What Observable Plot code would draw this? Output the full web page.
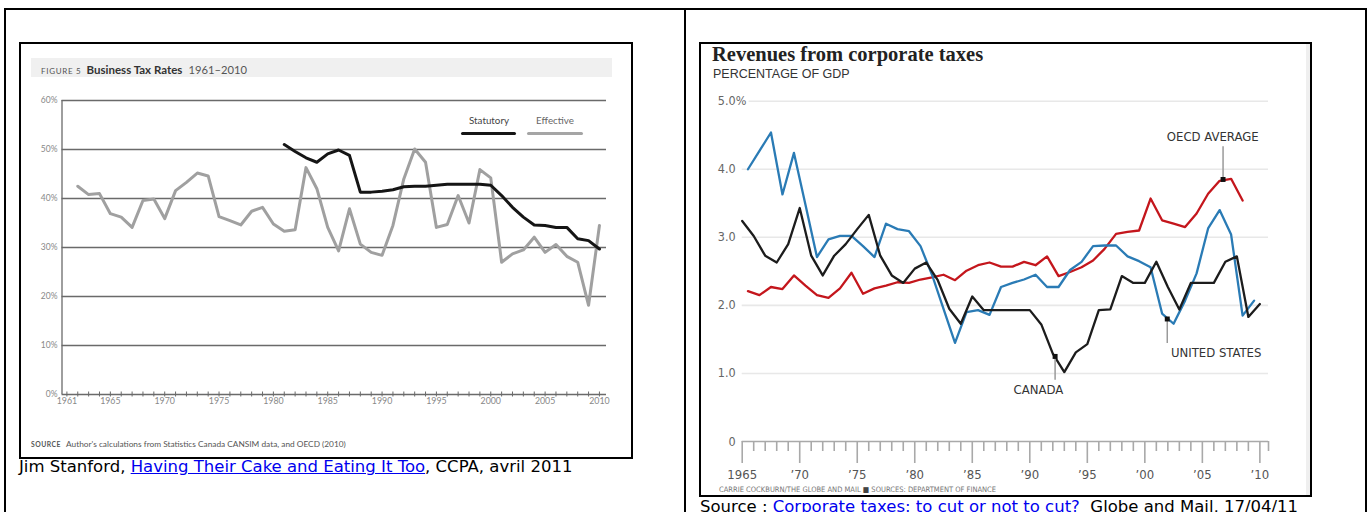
<!DOCTYPE html>
<html>
<head>
<meta charset="utf-8">
<script src="https://cdn.jsdelivr.net/npm/d3@7"></script>
<script src="https://cdn.jsdelivr.net/npm/@observablehq/plot@0.6"></script>
<style>
  html, body { margin: 0; padding: 0; background: #fff; }
  body { width: 1367px; height: 512px; overflow: hidden; position: relative; font-family: "DejaVu Sans", Verdana, sans-serif; }
  .abs { position: absolute; }
  .box { position: absolute; border: 2px solid #000; box-sizing: border-box; }
  .cond { font-family: "Liberation Sans Narrow", "DejaVu Sans Condensed", "Roboto Condensed", Roboto, sans-serif; }
  .lato { font-family: Lato, "Open Sans", sans-serif; }
  a { color: #0000ee; text-decoration: underline; }
  .cap { font-size: 16.5px; line-height: 18px; white-space: nowrap; color: #000; }
</style>
</head>
<body>
<!-- page table frame -->
<div class="box" style="left:4px;top:8px;width:1363px;height:520px;"></div>
<div class="abs" style="left:684px;top:8px;width:2px;height:510px;background:#000;"></div>

<!-- left figure -->
<div class="box" style="left:19px;top:42px;width:614px;height:417px;"></div>
<div class="abs lato" style="left:31px;top:58px;width:581px;height:19px;background:#f0f0f0;"></div>
<div class="abs lato" style="left:41px;top:60px;height:16px;line-height:16px;white-space:nowrap;">
  <span style="font-size:8px;letter-spacing:0.7px;color:#555;">FIGURE 5</span>
  <span style="font-size:11.5px;font-weight:bold;color:#333;margin-left:1px;">Business Tax Rates</span>
  <span style="font-size:11.2px;color:#555;margin-left:2px;">1961–2010</span>
</div>
<div class="abs lato" style="left:461px;top:114px;width:56px;text-align:center;font-size:9.8px;color:#444;">Statutory</div>
<div class="abs" style="left:461px;top:131.5px;width:55px;height:3.5px;background:#151515;border-radius:2px;"></div>
<div class="abs lato" style="left:527px;top:114px;width:56px;text-align:center;font-size:9.8px;color:#666;">Effective</div>
<div class="abs" style="left:527px;top:131.5px;width:56px;height:3.5px;background:#a5a5a5;border-radius:2px;"></div>
<div class="abs lato" style="left:31px;top:435px;height:12px;line-height:12px;white-space:nowrap;color:#555;">
  <span style="font-size:6.8px;font-weight:bold;letter-spacing:0.5px;">SOURCE</span>
  <span style="font-size:8.3px;margin-left:1px;">Author's calculations from Statistics Canada CANSIM data, and OECD (2010)</span>
</div>
<div id="left" class="abs" style="left:21px;top:44px;"></div>
<div class="abs cap" style="left:19px;top:458px;">Jim Stanford, <a href="#">Having Their Cake and Eating It Too</a>, CCPA, avril 2011</div>

<!-- right figure -->
<div class="box" style="left:699px;top:42px;width:613px;height:455px;"></div>
<div class="abs" style="left:1306px;top:44px;width:4px;height:451px;background:#efefef;"></div>
<div class="abs" style="left:712px;top:42px;font-family:'Liberation Serif','DejaVu Serif',serif;font-weight:bold;font-size:20.5px;line-height:24px;color:#222;white-space:nowrap;">Revenues from corporate taxes</div>
<div class="abs" style="left:713px;top:67px;font-family:'Liberation Sans',Arial,sans-serif;font-size:12.5px;line-height:15px;color:#333;white-space:nowrap;">PERCENTAGE OF GDP</div>
<div id="right" class="abs" style="left:701px;top:44px;"></div>
<div class="abs cond" style="left:719px;top:486px;font-size:7.5px;line-height:8px;color:#777;white-space:nowrap;">CARRIE COCKBURN/THE GLOBE AND MAIL <span style="color:#444">&#9632;</span> SOURCES: DEPARTMENT OF FINANCE</div>
<div class="abs cap" style="left:700px;top:498px;">Source : <a href="#">Corporate taxes: to cut or not to cut?</a>&nbsp; Globe and Mail, 17/04/11</div>

<script>
// ---------- LEFT CHART DATA: Business Tax Rates 1961-2010 ----------
const effectiveYears = [1962,1963,1964,1965,1966,1967,1968,1969,1970,1971,1972,1973,1974,1975,1976,1977,1978,1979,1980,1981,1982,1983,1984,1985,1986,1987,1988,1989,1990,1991,1992,1993,1994,1995,1996,1997,1998,1999,2000,2001,2002,2003,2004,2005,2006,2007,2008,2009,2010];
const effectiveValues = [42.5,40.8,41.0,36.9,36.2,34.1,39.6,39.9,35.9,41.6,43.3,45.2,44.6,36.3,35.5,34.6,37.4,38.2,34.8,33.3,33.6,46.3,42.0,34.1,29.3,37.9,30.7,29.0,28.4,34.5,44.0,50.1,47.4,34.1,34.7,40.6,35.0,45.9,44.2,27.0,28.7,29.5,32.1,29.0,30.6,28.2,27.0,18.2,34.5];
const statutoryYears = [1981,1982,1983,1984,1985,1986,1987,1988,1989,1990,1991,1992,1993,1994,1995,1996,1997,1998,1999,2000,2001,2002,2003,2004,2005,2006,2007,2008,2009,2010];
const statutoryValues = [51.0,49.6,48.3,47.4,49.1,49.9,48.8,41.3,41.3,41.5,41.8,42.4,42.5,42.5,42.7,42.9,42.9,42.9,42.9,42.7,40.6,38.2,36.2,34.6,34.5,34.1,34.1,31.8,31.4,29.7];
const leftYTicks = [0,10,20,30,40,50,60];
const leftXLabels = [1961,1965,1970,1975,1980,1985,1990,1995,2000,2005,2010];
const leftTickYears = d3.range(1961, 2011);

// ---------- RIGHT CHART DATA: Revenues from corporate taxes, % of GDP ----------
const canadaYears = d3.range(1965, 2011);
const canadaValues = [3.24,3.02,2.73,2.63,2.90,3.43,2.73,2.44,2.73,2.90,3.12,3.33,2.73,2.44,2.33,2.54,2.63,2.37,1.95,1.73,2.13,1.93,1.93,1.93,1.93,1.93,1.72,1.29,1.02,1.31,1.43,1.93,1.94,2.43,2.33,2.33,2.64,2.27,1.94,2.33,2.33,2.33,2.64,2.72,1.83,2.02];
const usYears = d3.range(1965, 2010);
const usValues = [4.00,4.27,4.54,3.63,4.24,3.48,2.71,2.97,3.02,3.02,2.87,2.71,3.20,3.12,3.09,2.87,2.45,1.95,1.45,1.90,1.93,1.86,2.27,2.33,2.38,2.45,2.27,2.27,2.52,2.64,2.87,2.88,2.88,2.72,2.65,2.56,1.88,1.73,2.07,2.47,3.13,3.40,3.04,1.85,2.07];
const oecdYears = d3.range(1965, 2009);
const oecdValues = [2.21,2.15,2.27,2.24,2.44,2.29,2.15,2.11,2.25,2.48,2.17,2.25,2.29,2.34,2.33,2.38,2.41,2.45,2.37,2.51,2.59,2.63,2.57,2.57,2.64,2.59,2.72,2.43,2.49,2.56,2.66,2.83,3.05,3.08,3.10,3.57,3.25,3.20,3.15,3.35,3.64,3.83,3.86,3.54];
const rightYTicks = [0,1,2,3,4,5];
const rightYLabels = ["0","1.0","2.0","3.0","4.0","5.0"];
const rightMajorYears = [1965,1970,1975,1980,1985,1990,1995,2000,2005,2010];
const rightXLabels = ["1965","\u201970","\u201975","\u201980","\u201985","\u201990","\u201995","\u201900","\u201905","\u201910"];
const rightMinorYears = d3.range(1966, 2010).filter(y => y % 5 !== 0).concat([2010.75]);
const annotLabels = ["OECD AVERAGE","UNITED STATES","CANADA"];
const annotYears = [2006.8, 2001.95, 1992.2];
const annotValues = [3.85, 1.80, 1.25];
const annotLeaderEnds = [4.33, 1.44, 0.90];
const annotLabelYears = [2005.9, 2006.2, 1990.75];
const annotLabelValues = [4.48, 1.30, 0.765];

// ---------- build tables ----------
const effective = effectiveYears.map((year, i) => ({year, value: effectiveValues[i]}));
const statutory = statutoryYears.map((year, i) => ({year, value: statutoryValues[i]}));
const canada = canadaYears.map((year, i) => ({year, value: canadaValues[i]}));
const us = usYears.map((year, i) => ({year, value: usValues[i]}));
const oecd = oecdYears.map((year, i) => ({year, value: oecdValues[i]}));
const annotations = annotLabels.map((label, i) => ({label, year: annotYears[i], value: annotValues[i], end: annotLeaderEnds[i], ly: annotLabelYears[i], lv: annotLabelValues[i]}));
const rightYLabelMap = new Map(rightYTicks.map((t, i) => [t, rightYLabels[i]]));
const rightXLabelMap = new Map(rightMajorYears.map((t, i) => [t, rightXLabels[i]]));
const midYear = d => d.year + 0.5;   // US and OECD series are drawn at mid-year

const condFont = '"Liberation Sans Narrow", "DejaVu Sans Condensed", "Roboto Condensed", Roboto, sans-serif';

// ---------- LEFT CHART ----------
const leftChart = Plot.plot({
  width: 610, height: 413,
  marginLeft: 40.5, marginRight: 25, marginTop: 56, marginBottom: 63,
  style: {background: "transparent", fontFamily: "Lato, 'Open Sans', sans-serif", overflow: "visible"},
  x: {domain: [1960.55, 2010.65], label: null},
  y: {domain: [0, 60], label: null},
  marks: [
    Plot.ruleY(leftYTicks, {stroke: "#6a6a6a", strokeWidth: 1.3}),
    Plot.ruleX([1960.55], {y1: 0, y2: 60, stroke: "#6a6a6a", strokeWidth: 1.3}),
    Plot.axisX({ticks: leftTickYears, tickSize: 5, dy: -2.5, tickFormat: () => "", label: null, stroke: "#6a6a6a", strokeWidth: 1}),
    Plot.axisX({ticks: leftXLabels, tickSize: 0, tickPadding: 3.5, tickFormat: d => String(d), label: null, fontSize: 8.8, fill: "#888"}),
    Plot.axisY({ticks: leftYTicks, tickSize: 0, tickPadding: 4.5, tickFormat: d => d + "%", label: null, fontSize: 8.5, fill: "#888"}),
    Plot.line(effective, {x: "year", y: "value", stroke: "#a0a0a0", strokeWidth: 3, strokeLinejoin: "round"}),
    Plot.line(statutory, {x: "year", y: "value", stroke: "#151515", strokeWidth: 3, strokeLinejoin: "round"})
  ]
});
document.getElementById("left").appendChild(leftChart);

// ---------- RIGHT CHART ----------
const rightChart = Plot.plot({
  width: 609, height: 451,
  marginLeft: 40.7, marginRight: 42, marginTop: 56.7, marginBottom: 54,
  style: {background: "transparent", fontFamily: condFont, overflow: "visible"},
  x: {domain: [1965, 2010.75], label: null},
  y: {domain: [0, 5], label: null},
  marks: [
    Plot.ruleY(rightYTicks.filter(t => t > 0 && t < 5), {stroke: "#e8e8e8", strokeWidth: 1.6}),
    Plot.ruleY([5], {x1: 1965.6, x2: 2010.75, stroke: "#e8e8e8", strokeWidth: 1.6}),
    Plot.ruleY([0], {stroke: "#a9a9a9", strokeWidth: 1.6}),
    Plot.axisX({ticks: rightMinorYears, tickSize: 10, tickFormat: () => "", label: null, stroke: "#a9a9a9", strokeWidth: 1.6}),
    Plot.axisX({ticks: rightMajorYears, tickSize: 22, tickPadding: 6, tickFormat: d => rightXLabelMap.get(d), label: null, stroke: "#a9a9a9", strokeWidth: 1.6, fill: "#555", fontSize: 13}),
    Plot.axisY({ticks: rightYTicks, tickSize: 0, tickPadding: 6.5, tickFormat: d => rightYLabelMap.get(d), label: null, fill: "#666", fontSize: 12.5}),
    Plot.text(["%"], {x: 1965, y: 5, dx: -6.5, textAnchor: "start", fill: "#666", fontSize: 12.5}),
    Plot.line(oecd, {x: midYear, y: "value", stroke: "#c4161c", strokeWidth: 2.3, strokeLinejoin: "round"}),
    Plot.line(us, {x: midYear, y: "value", stroke: "#2a7bb5", strokeWidth: 2.3, strokeLinejoin: "round"}),
    Plot.line(canada, {x: "year", y: "value", stroke: "#1c1c1c", strokeWidth: 2.3, strokeLinejoin: "round"}),
    Plot.ruleX(annotations, {x: "year", y1: "value", y2: "end", stroke: "#9a9a9a", strokeWidth: 1.5}),
    Plot.dot(annotations, {x: "year", y: "value", symbol: "square", r: 2.8, fill: "#111", stroke: null}),
    Plot.text(annotations, {x: "ly", y: "lv", text: "label", fill: "#333", fontSize: 13})
  ]
});
document.getElementById("right").appendChild(rightChart);
</script>
</body>
</html>
